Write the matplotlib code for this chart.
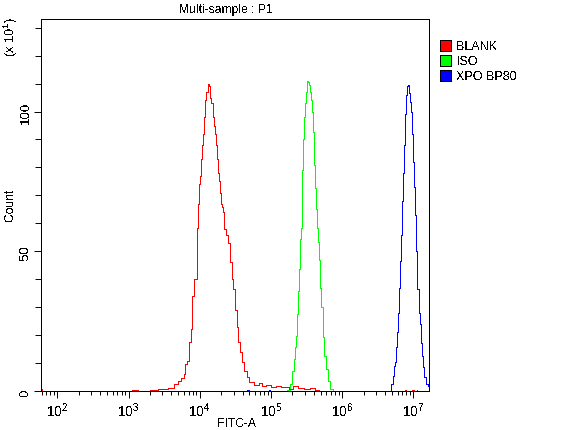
#!/usr/bin/env python3
import numpy as np
import matplotlib
matplotlib.use("Agg")
import matplotlib.pyplot as plt
from matplotlib.patches import Patch
from matplotlib.ticker import FixedLocator, FixedFormatter, NullFormatter

plt.rcParams["font.family"] = ["Liberation Sans", "DejaVu Sans"]
plt.rcParams["mathtext.default"] = "regular"
plt.rcParams["text.antialiased"] = False
plt.rcParams["lines.antialiased"] = False
plt.rcParams["patch.antialiased"] = False

# log10(FITC-A), count / 10
blank_x = [1.77, 1.78, 1.79, 2.99, 3.09, 3.16, 3.26, 3.34, 3.48, 3.62, 3.67, 3.72, 3.76, 3.79, 3.81, 3.83,
           3.86, 3.89, 3.90, 3.95, 3.965, 3.98, 3.99, 4.01, 4.03, 4.04, 4.055, 4.07, 4.08, 4.105, 4.12, 4.135,
           4.155, 4.175, 4.19, 4.205, 4.22, 4.23, 4.245, 4.26, 4.275, 4.29, 4.30, 4.315, 4.33, 4.345, 4.38,
           4.41, 4.44, 4.46, 4.485, 4.51, 4.53, 4.555, 4.59, 4.61, 4.645, 4.68, 4.715, 4.80, 4.85, 4.89, 4.96,
           5.03, 5.10, 5.17, 5.225, 5.27, 5.34, 5.41, 5.51, 5.59, 5.65, 5.70, 6.87, 6.885, 6.90, 6.98, 6.995,
           7.01, 7.04, 7.05, 7.06]
blank_y = [0, 0.7, 0, 0, 0.4, 0, 0, 0.4, 0.7, 1.1, 2.5, 3.6, 4.7, 6.1, 9.7, 10.7,
           17.5, 22.2, 34, 40, 58.3, 67, 74, 77, 83, 88, 92, 98, 104, 107, 110, 109,
           105, 103, 98, 95, 92, 88, 83, 78, 75, 71, 67, 66, 64, 58, 56,
           53, 46, 40, 36.5, 29, 23, 17.5, 14, 10.3, 7.2, 5, 3.2, 2.1, 2.9, 1.8, 2.1,
           1.4, 1.8, 1.4, 1.4, 0.7, 1.8, 1.1, 0.7, 1.1, 0.4, 0, 0, 0.4, 0, 0, 0.4,
           0, 0, 0.4, 0]

iso_x = [5.20, 5.24, 5.29, 5.315, 5.335, 5.35, 5.36, 5.38, 5.39, 5.405, 5.42, 5.43, 5.435, 5.44, 5.455, 5.47,
         5.485, 5.50, 5.51, 5.525, 5.54, 5.555, 5.57, 5.58, 5.595, 5.61, 5.625, 5.64, 5.65, 5.665, 5.68, 5.70,
         5.72, 5.74, 5.755, 5.785, 5.81, 5.84, 5.90]
iso_y = [0, 0.4, 2.5, 7.2, 11.5, 15.7, 19.7, 27.6, 35.8, 43.7, 54.4, 58.3, 66, 79, 90, 98,
         103, 107, 111, 110.6, 109.5, 107, 104, 100, 92.7, 81, 72.7, 65, 58.3, 53.3, 47, 37,
         30, 19.3, 12.5, 7.9, 3.6, 0.7, 0]

xpo_x = [4.66, 4.68, 4.70, 4.97, 4.985, 5.0, 6.675, 6.70, 6.72, 6.735, 6.75, 6.765, 6.78, 6.79, 6.805, 6.82,
         6.835, 6.85, 6.86, 6.875, 6.89, 6.905, 6.92, 6.93, 6.945, 6.96, 6.975, 6.99, 7.00, 7.02, 7.03, 7.04,
         7.045, 7.06, 7.085, 7.10, 7.115, 7.13, 7.145, 7.165, 7.19, 7.215]
xpo_y = [0, 0.4, 0, 0, 0.4, 0, 0, 2.5, 5.4, 8.9, 10.4, 15.7, 21, 28, 37, 46.5,
         56, 68, 78, 88, 99, 106, 109, 109.5, 106.7, 103.4, 100, 92, 82, 73, 63, 58,
         50, 36.5, 28, 24, 17, 12.5, 8.6, 5, 2.5, 1.8]

names = ["BLANK", "ISO", "XPO BP80"]
colors = ["#ff0000", "#00ff00", "#0000ff"]
y_major = [0, 50, 100]
y_minor = [10, 20, 30, 40, 60, 70, 80, 90, 110, 120, 130]
x_major = [1e2, 1e3, 1e4, 1e5, 1e6, 1e7]
x_labels = ["$10^{2}$", "$10^{3}$", "$10^{4}$", "$10^{5}$", "$10^{6}$", "$10^{7}$"]

W, H = 566, 431
fig = plt.figure(figsize=(W / 100, H / 100), dpi=100)
ax = fig.add_axes([41.5 / W, 1 - 392 / H, (429 - 41.5) / W, (392 - 19.5) / H])

ax.plot(10 ** np.array(xpo_x), xpo_y, color=colors[2], lw=0.7, drawstyle="steps-mid")
ax.plot(10 ** np.array(iso_x), iso_y, color=colors[1], lw=0.7, drawstyle="steps-mid")
ax.plot(10 ** np.array(blank_x), blank_y, color=colors[0], lw=0.7, drawstyle="steps-mid")

ax.set_xscale("log")
ax.set_xlim(60, 1.66e7)
ax.set_ylim(0, 133.3)

subs = [m * d for d in [1e1, 1e2, 1e3, 1e4, 1e5, 1e6, 1e7] for m in range(2, 10)]
ax.xaxis.set_major_locator(FixedLocator(x_major))
ax.xaxis.set_major_formatter(FixedFormatter(x_labels))
ax.xaxis.set_minor_locator(FixedLocator([s for s in subs if 60 <= s <= 1.66e7]))
ax.xaxis.set_minor_formatter(NullFormatter())
ax.yaxis.set_major_locator(FixedLocator(y_major))
ax.yaxis.set_minor_locator(FixedLocator(y_minor))
ax.yaxis.set_minor_formatter(NullFormatter())

ax.tick_params(axis="x", which="major", length=5, width=0.7, labelsize=10, pad=2)
ax.tick_params(axis="x", which="minor", length=3, width=0.7)
ax.tick_params(axis="y", which="major", length=5, width=0.7, labelsize=9.5, pad=2)
ax.tick_params(axis="y", which="minor", length=4, width=0.7)
for lab in ax.get_yticklabels():
    lab.set_rotation(90)
    lab.set_va("center")
for sp in ax.spines.values():
    sp.set_linewidth(0.7)

fig.text(226 / W, 1 - 10 / H, "Multi-sample : P1", ha="center", va="center", fontsize=8.7)
fig.text(236 / W, 1 - 424 / H, "FITC-A", ha="center", va="center", fontsize=8.7)
fig.text(10 / W, 1 - 205 / H, "Count", rotation=90, ha="center", va="center", fontsize=8.7)
fig.text(11 / W, 1 - 37 / H, "(x $10^{1}$)", rotation=90, ha="center", va="center", fontsize=9.3)

handles = [Patch(facecolor=c, edgecolor="black", linewidth=0.7) for c in colors]
fig.legend(handles, names, loc="upper left", bbox_to_anchor=(439.5 / W, 1 - 40.5 / H), frameon=False,
           fontsize=9, borderpad=0, borderaxespad=0, handlelength=0.95, handleheight=1.0,
           handletextpad=0.4, labelspacing=0.17)

fig.savefig("out.png", dpi=100)
